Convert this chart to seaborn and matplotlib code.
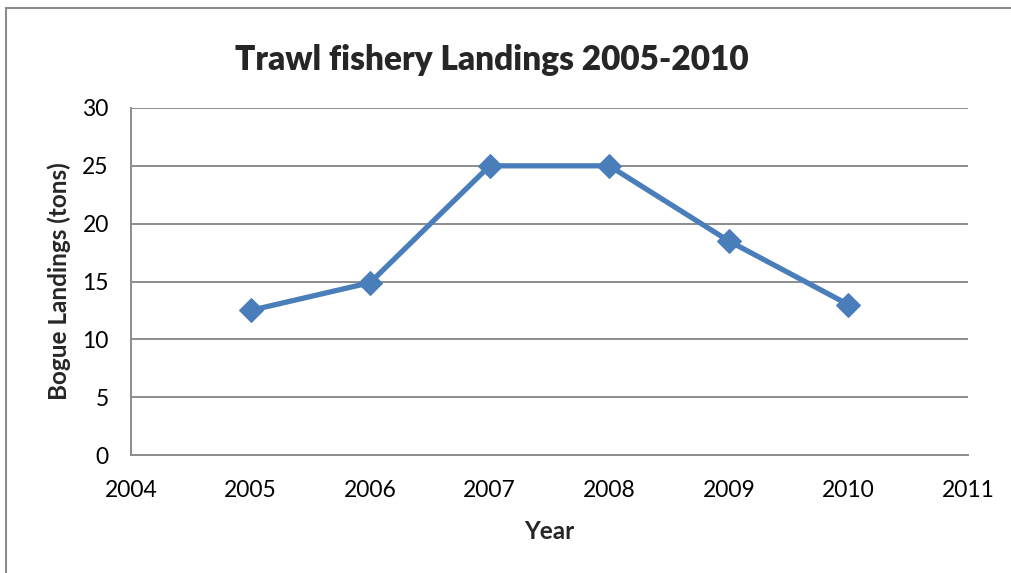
import matplotlib
matplotlib.use("Agg")
import matplotlib.pyplot as plt
from matplotlib.lines import Line2D
import seaborn as sns
import pandas as pd

years = [2005, 2006, 2007, 2008, 2009, 2010]
landings = [12.5, 14.9, 25.0, 25.0, 18.5, 13.0]
x_ticks = [2004, 2005, 2006, 2007, 2008, 2009, 2010, 2011]
y_ticks = [0, 5, 10, 15, 20, 25, 30]

sns.set_style("white")
plt.rcParams["font.family"] = ["Lato", "DejaVu Sans"]

df = pd.DataFrame({"Year": years, "Landings": landings})

fig = plt.figure(figsize=(10.12, 5.73), dpi=100)
ax = fig.add_axes([131 / 1012, 1 - 455 / 573, (968 - 131) / 1012, (455 - 108) / 573])

sns.lineplot(data=df, x="Year", y="Landings", ax=ax, color="#4A7EBB",
             linewidth=3.8, marker="D", markersize=12, markeredgecolor="#4A7EBB",
             zorder=3)

ax.set_xlim(2004, 2011)
ax.set_ylim(0, 30)
ax.set_xticks(x_ticks)
ax.set_xticklabels([str(t) for t in x_ticks])
ax.set_yticks(y_ticks)
ax.yaxis.grid(True, color="#8C8C8C", linewidth=1.4)
ax.xaxis.grid(False)

for side in ("top", "right"):
    ax.spines[side].set_visible(False)
for side in ("left", "bottom"):
    ax.spines[side].set_color("#8C8C8C")
    ax.spines[side].set_linewidth(1.4)

ax.tick_params(axis="both", labelsize=16.5, colors="#8C8C8C", labelcolor="black",
               length=0)
ax.tick_params(axis="y", pad=16)
ax.tick_params(axis="x", pad=18)

ax.set_xlabel("Year", fontsize=17.5, fontweight="bold", labelpad=14)
ax.set_ylabel("Bogue Landings (tons)", fontsize=17.5, fontweight="bold", labelpad=8)

fig.text(492 / 1012, 1 - 60 / 573, "Trawl fishery Landings 2005-2010",
         ha="center", va="center", fontsize=24, fontweight="heavy")

# chart frame on the left and top edges
fig.add_artist(Line2D([6 / 1012, 6 / 1012], [0, 1 - 8 / 573], transform=fig.transFigure,
                      color="#8C8C8C", linewidth=1.5))
fig.add_artist(Line2D([6 / 1012, 1], [1 - 8 / 573, 1 - 8 / 573], transform=fig.transFigure,
                      color="#8C8C8C", linewidth=1.5))

fig.savefig("out.png", dpi=100, facecolor="white")
